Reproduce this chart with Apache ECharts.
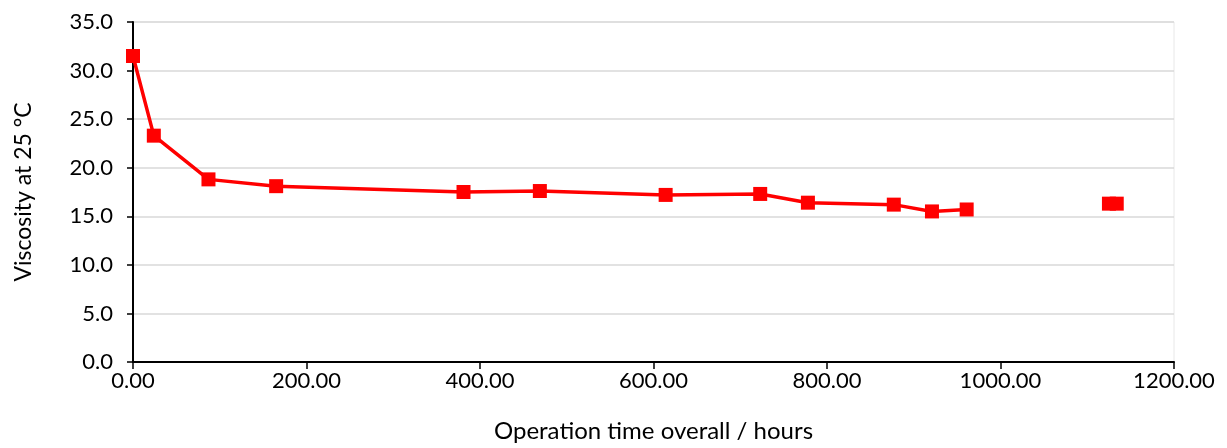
<!DOCTYPE html>
<html>
<head>
<meta charset="utf-8">
<script src="https://cdn.jsdelivr.net/npm/echarts@6/dist/echarts.min.js"></script>
<style>
html,body{margin:0;padding:0;background:#fff;}
#chart{width:1227px;height:448px;}
</style>
</head>
<body>
<div id="chart"></div>
<script>
// Data
const hoursMain = [0, 24, 87, 165, 381, 469, 614, 723, 778, 877, 921, 961];
const viscMain  = [31.5, 23.3, 18.8, 18.1, 17.5, 17.6, 17.2, 17.3, 16.4, 16.2, 15.5, 15.7];
const hoursLate = [1125, 1134];
const viscLate  = [16.3, 16.3];

const xTitle = 'Operation time overall / hours';
const yTitle = 'Viscosity at 25 °C';

const FONT = 'Lato, "Open Sans", sans-serif';

// gap between the two measurement runs -> line break
const seriesData = hoursMain.map((h, i) => [h, viscMain[i]])
  .concat([[ (hoursMain[hoursMain.length-1] + hoursLate[0]) / 2, null ]])
  .concat(hoursLate.map((h, i) => [h, viscLate[i]]));

const chart = echarts.init(document.getElementById('chart'), null, {renderer: 'canvas'});
chart.setOption({
  animation: false,
  backgroundColor: '#ffffff',
  grid: {
    left: 133, right: 53, top: 22, bottom: 83,
    show: true, borderColor: '#e8e8e8', borderWidth: 1, backgroundColor: 'transparent'
  },
  xAxis: {
    type: 'value', min: 0, max: 1200, interval: 200,
    name: xTitle, nameLocation: 'middle', nameGap: 57,
    nameTextStyle: {fontFamily: FONT, fontSize: 24, color: '#000'},
    axisLine: {show: true, onZero: false, lineStyle: {color: '#000', width: 2}},
    axisTick: {show: true, length: 7, lineStyle: {color: '#000', width: 1.5}},
    axisLabel: {fontFamily: FONT, fontSize: 22, color: '#000', margin: 8,
      formatter: v => v.toFixed(2)},
    splitLine: {show: false}
  },
  yAxis: {
    type: 'value', min: 0, max: 35, interval: 5,
    name: yTitle, nameLocation: 'middle', nameGap: 98,
    nameTextStyle: {fontFamily: FONT, fontSize: 23, color: '#000'},
    axisLine: {show: true, lineStyle: {color: '#000', width: 2}},
    axisTick: {show: true, length: 6, lineStyle: {color: '#000', width: 1.5}},
    axisLabel: {fontFamily: FONT, fontSize: 22, color: '#000', margin: 20,
      formatter: v => v.toFixed(1)},
    splitLine: {show: true, lineStyle: {color: '#d9d9d9', width: 1.5}}
  },
  series: [{
    type: 'line',
    data: seriesData,
    connectNulls: false,
    symbol: 'rect', symbolSize: 14,
    itemStyle: {color: '#ff0000'},
    lineStyle: {color: '#ff0000', width: 3.5},
    z: 5
  }]
});
</script>
</body>
</html>
